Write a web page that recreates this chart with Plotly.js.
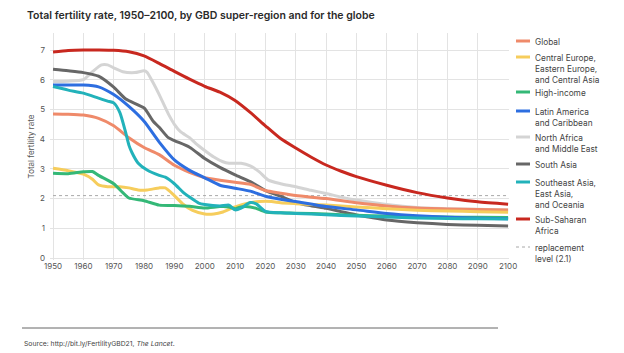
<!DOCTYPE html>
<html><head><meta charset="utf-8">
<script src="https://cdn.plot.ly/plotly-3.0.1.min.js"></script>
<style>html,body{margin:0;padding:0;background:#fff;}#chart{width:624px;height:353px;}</style>
</head><body><div id="chart"></div>
<script>
// ---- data ----
const seriesNames = ["North Africa<br>and Middle East","South Asia","Global","Central Europe,<br>Eastern Europe,<br>and Central Asia","High-income","Latin America<br>and Caribbean","Southeast Asia,<br>East Asia,<br>and Oceania","Sub-Saharan<br>Africa"];

const nameYears = [1950,1955,1960,1963,1966,1968,1970,1973,1977,1980,1981,1983,1985,1988,1990,1992,1995,1997,2000,2003,2006,2008,2012,2015,2018,2021,2025,2030,2035,2040,2045,2050,2060,2070,2080,2090,2100];
const nameTFR   = [5.94,5.95,6.0,6.27,6.5,6.5,6.4,6.27,6.24,6.3,6.25,5.9,5.5,4.85,4.5,4.25,4.05,3.86,3.62,3.4,3.24,3.19,3.19,3.1,2.9,2.62,2.5,2.4,2.28,2.17,2.05,1.95,1.8,1.7,1.66,1.64,1.62];

const saYears = [1950,1955,1960,1965,1970,1974,1980,1983,1985,1988,1990,1995,2000,2005,2010,2015,2020,2025,2030,2035,2040,2045,2050,2055,2060,2070,2080,2090,2100];
const saTFR   = [6.35,6.3,6.24,6.12,5.75,5.35,5.05,4.6,4.4,4.05,3.95,3.73,3.35,3.05,2.8,2.57,2.27,2.08,1.87,1.76,1.67,1.56,1.45,1.36,1.28,1.19,1.13,1.1,1.08];

const globalYears = [1950,1955,1960,1965,1970,1975,1980,1985,1990,1995,2000,2005,2010,2015,2020,2025,2030,2040,2050,2060,2070,2080,2090,2100];
const globalTFR   = [4.85,4.84,4.81,4.7,4.45,4.05,3.72,3.48,3.12,2.88,2.7,2.62,2.55,2.48,2.27,2.18,2.1,2.0,1.86,1.75,1.68,1.65,1.63,1.62];

const ceYears = [1950,1955,1960,1963,1965,1968,1972,1975,1978,1981,1985,1987,1990,1993,1996,2000,2003,2006,2010,2015,2018,2022,2025,2030,2040,2050,2060,2070,2080,2090,2100];
const ceTFR   = [3.02,2.94,2.82,2.65,2.46,2.4,2.4,2.36,2.29,2.29,2.36,2.36,2.1,1.8,1.6,1.48,1.48,1.55,1.72,1.86,1.9,1.9,1.86,1.83,1.78,1.72,1.66,1.61,1.58,1.56,1.54];

const hiYears = [1950,1955,1960,1963,1965,1970,1973,1975,1980,1985,1990,1995,2000,2005,2008,2010,2012,2015,2017,2020,2025,2030,2040,2050,2060,2070,2080,2090,2100];
const hiTFR   = [2.85,2.84,2.9,2.91,2.78,2.5,2.2,2.02,1.93,1.78,1.77,1.74,1.68,1.73,1.72,1.66,1.72,1.72,1.67,1.55,1.52,1.51,1.48,1.44,1.41,1.39,1.38,1.37,1.36];

const latYears = [1950,1955,1960,1965,1970,1975,1980,1985,1990,1995,2000,2005,2010,2015,2020,2025,2030,2040,2050,2060,2070,2080,2090,2100];
const latTFR   = [5.82,5.82,5.82,5.76,5.5,5.1,4.6,3.9,3.3,2.95,2.7,2.45,2.35,2.25,2.08,1.98,1.9,1.73,1.62,1.5,1.42,1.37,1.34,1.32];

const seaYears = [1950,1955,1960,1965,1968,1970,1972,1974,1975,1976,1978,1981,1985,1987,1990,1993,1995,1998,2000,2005,2008,2010,2012,2015,2017,2020,2025,2030,2040,2050,2060,2070,2080,2090,2100];
const seaTFR   = [5.77,5.65,5.55,5.38,5.28,5.22,4.9,4.2,3.8,3.55,3.2,2.96,2.78,2.72,2.5,2.2,2.05,1.85,1.8,1.75,1.78,1.62,1.68,1.87,1.82,1.57,1.52,1.5,1.46,1.41,1.38,1.35,1.33,1.32,1.31];

const ssaYears = [1950,1955,1960,1965,1970,1975,1980,1985,1990,1995,2000,2005,2010,2015,2020,2025,2030,2035,2040,2045,2050,2060,2070,2080,2090,2100];
const ssaTFR   = [6.93,6.98,7.0,7.0,6.99,6.94,6.8,6.55,6.28,6.02,5.78,5.58,5.3,4.9,4.45,4.02,3.7,3.4,3.13,2.92,2.74,2.45,2.2,2.02,1.89,1.81];

const replacementYears = [1950, 2100];
const replacementLevel = 2.1;
const xTicks = [1950,1960,1970,1980,1990,2000,2010,2020,2030,2040,2050,2060,2070,2080,2090,2100];
const yTicks = [0,1,2,3,4,5,6,7];

// ---- styling ----
const colors = ["#d4d4d4","#676767","#ef8a6a","#f6cd5c","#34b877","#2d6ee0","#22b2ba","#c8281f"];
const xs = [nameYears,saYears,globalYears,ceYears,hiYears,latYears,seaYears,ssaYears];
const ys = [nameTFR,saTFR,globalTFR,ceTFR,hiTFR,latTFR,seaTFR,ssaTFR];

const traces = [{
  x: replacementYears, y: replacementYears.map(() => replacementLevel),
  mode: 'lines', line: {color: '#a8a8a8', width: 1, dash: 'dot'}, showlegend: false, hoverinfo: 'skip'
}];
for (let i = 0; i < seriesNames.length; i++) {
  traces.push({x: xs[i], y: ys[i], mode: 'lines', name: seriesNames[i],
    line: {color: colors[i], width: 3, shape: 'spline', smoothing: 0.6}, showlegend: false});
}

// manual legend (pixel positions converted to paper coords)
const L = 50, W = 459, T = 33, H = 227;
const px = x => (x - L) / W;
const py = y => (T + H - y) / H;
const legendOrder = [
  {label: "Global", c: colors[2], y: 41},
  {label: "Central Europe,<br>Eastern Europe,<br>and Central Asia", c: colors[3], y: 57},
  {label: "High-income", c: colors[4], y: 92},
  {label: "Latin America<br>and Caribbean", c: colors[5], y: 111},
  {label: "North Africa<br>and Middle East", c: colors[0], y: 137},
  {label: "South Asia", c: colors[1], y: 164},
  {label: "Southeast Asia,<br>East Asia,<br>and Oceania", c: colors[6], y: 182},
  {label: "Sub-Saharan<br>Africa", c: colors[7], y: 219},
  {label: "replacement<br>level (2.1)", c: "#a8a8a8", y: 247, dot: true}
];
const shapes = [], annotations = [];
legendOrder.forEach(e => {
  shapes.push({type: 'line', xref: 'paper', yref: 'paper', x0: px(516), x1: px(530), y0: py(e.y), y1: py(e.y),
    line: {color: e.c, width: e.dot ? 1 : 3, dash: e.dot ? 'dot' : 'solid'}});
  annotations.push({xref: 'paper', yref: 'paper', x: px(533), y: py(e.y - 6), xanchor: 'left', yanchor: 'top',
    align: 'left', showarrow: false, text: e.label, font: {family: 'Inter, sans-serif', size: 8.3, color: '#444'}});
});
// footer rule and source
shapes.push({type: 'line', xref: 'paper', yref: 'paper', x0: px(22), x1: px(498), y0: py(328), y1: py(328),
  line: {color: '#666', width: 1}});
annotations.push({xref: 'paper', yref: 'paper', x: px(22), y: py(343), xanchor: 'left', yanchor: 'middle',
  showarrow: false, text: 'Source: http://bit.ly/FertilityGBD21, <i>The Lancet</i>.',
  font: {family: 'Inter, sans-serif', size: 6.8, color: '#444'}});

const layout = {
  width: 624, height: 353,
  margin: {l: L, r: 624 - L - W, t: T, b: 353 - T - H, pad: 0},
  paper_bgcolor: '#fff', plot_bgcolor: '#fff',
  font: {family: 'Inter, sans-serif', color: '#555'},
  title: {text: 'Total fertility rate, 1950–2100, by GBD super-region and for the globe',
    xref: 'container', yref: 'container', x: 27/624, xanchor: 'left', y: 1 - 15/353, yanchor: 'middle',
    font: {family: 'Inter, sans-serif', size: 10.5, color: '#2a2a2a', weight: 600}},
  xaxis: {range: [1949, 2100.3], tickvals: xTicks, ticktext: xTicks.map(String), showgrid: true,
    gridcolor: '#e3e3e3', gridwidth: 1, zeroline: false, showline: false, ticks: '',
    tickfont: {size: 8, color: '#555'}, fixedrange: true},
  yaxis: {range: [-0.067, 7.573], tickvals: yTicks, showgrid: true, gridcolor: '#e3e3e3', gridwidth: 1,
    zeroline: false, showline: false, ticks: '', ticklabelstandoff: 4,
    tickfont: {size: 8, color: '#555'},
    title: {text: 'Total fertility rate', font: {size: 8, color: '#555'}, standoff: 4}, fixedrange: true},
  showlegend: false,
  shapes: shapes, annotations: annotations
};
Plotly.newPlot('chart', traces, layout, {displayModeBar: false, staticPlot: true});
</script></body></html>
